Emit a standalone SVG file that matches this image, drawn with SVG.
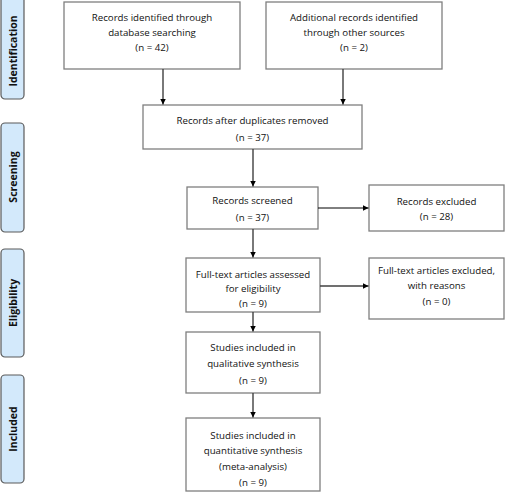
<svg xmlns="http://www.w3.org/2000/svg" width="505" height="492" viewBox="0 0 505 492">
<defs>
<marker id="ah" viewBox="0 0 6 6" refX="6" refY="3" markerWidth="6" markerHeight="6" markerUnits="userSpaceOnUse" orient="auto">
<path d="M0,0 L6,3 L0,6 Z" fill="#000"/>
</marker>
</defs>
<style>
.box{fill:#fff;stroke:#7f7f7f;stroke-width:1.3}
.side{fill:#d3e9fb;stroke:#5a5a5a;stroke-width:1.2}
.t{font-family:"Open Sans","Liberation Sans",sans-serif;font-size:9.7px;fill:#111;text-anchor:middle}
.s{font-family:"Open Sans","Liberation Sans",sans-serif;font-size:10.5px;font-weight:bold;fill:#111;text-anchor:middle}
.c{stroke:#404040;stroke-width:1.4;fill:none;marker-end:url(#ah)}
.c2{stroke:#000;stroke-width:1;fill:none;marker-end:url(#ah)}
</style>
<g id="side-identification"><rect class="side" x="1" y="-8" width="23" height="107" rx="4"/><text class="s" transform="translate(16.5,51) rotate(-90)">Identification</text></g>
<g id="side-screening"><rect class="side" x="1" y="123" width="23" height="109" rx="4"/><text class="s" transform="translate(16.5,177) rotate(-90)">Screening</text></g>
<g id="side-eligibility"><rect class="side" x="1" y="249" width="23" height="108" rx="4"/><text class="s" transform="translate(16.5,303) rotate(-90)">Eligibility</text></g>
<g id="side-included"><rect class="side" x="1" y="375" width="23" height="108" rx="4"/><text class="s" transform="translate(16.5,429) rotate(-90)">Included</text></g>

<g id="db"><rect class="box" x="64" y="2" width="176" height="67"/><text class="t" x="152" y="21">Records identified through</text><text class="t" x="152" y="36">database searching</text><text class="t" x="152" y="51">(n = 42)</text></g>
<g id="other"><rect class="box" x="266" y="2" width="176" height="67"/><text class="t" x="354" y="21">Additional records identified</text><text class="t" x="354" y="36">through other sources</text><text class="t" x="354" y="51">(n = 2)</text></g>
<g id="dup"><rect class="box" x="143" y="105" width="219" height="44"/><text class="t" x="252.5" y="124">Records after duplicates removed</text><text class="t" x="252.5" y="141">(n = 37)</text></g>
<g id="screened"><rect class="box" x="187" y="187" width="131" height="42"/><text class="t" x="252.5" y="204">Records screened</text><text class="t" x="252.5" y="221">(n = 37)</text></g>
<g id="excluded"><rect class="box" x="369" y="185" width="135" height="46"/><text class="t" x="436.5" y="205">Records excluded</text><text class="t" x="436.5" y="220">(n = 28)</text></g>
<g id="assessed"><rect class="box" x="186" y="258" width="134" height="54"/><text class="t" x="253" y="278">Full-text articles assessed</text><text class="t" x="253" y="292">for eligibility</text><text class="t" x="253" y="307">(n = 9)</text></g>
<g id="ftexcluded"><rect class="box" x="369" y="258" width="135" height="61"/><text class="t" x="436.5" y="274">Full-text articles excluded,</text><text class="t" x="436.5" y="289">with reasons</text><text class="t" x="436.5" y="305">(n = 0)</text></g>
<g id="qual"><rect class="box" x="186" y="332" width="134" height="61"/><text class="t" x="253" y="351">Studies included in</text><text class="t" x="253" y="367">qualitative synthesis</text><text class="t" x="253" y="384">(n = 9)</text></g>
<g id="quant"><rect class="box" x="186" y="418" width="134" height="73"/><text class="t" x="253" y="439">Studies included in</text><text class="t" x="253" y="454">quantitative synthesis</text><text class="t" x="253" y="470">(meta-analysis)</text><text class="t" x="253" y="486">(n = 9)</text></g>

<g id="connectors">
<path class="c" d="M163,69 V104.5"/>
<path class="c" d="M343,69 V104.5"/>
<path class="c" d="M253,149 V186.5"/>
<path class="c2" d="M318,208 H368.5"/>
<path class="c" d="M253,229 V257.5"/>
<path class="c" d="M320,286 H368.5"/>
<path class="c" d="M253,312 V331.5"/>
<path class="c" d="M253,393 V417.5"/>
</g>
</svg>
